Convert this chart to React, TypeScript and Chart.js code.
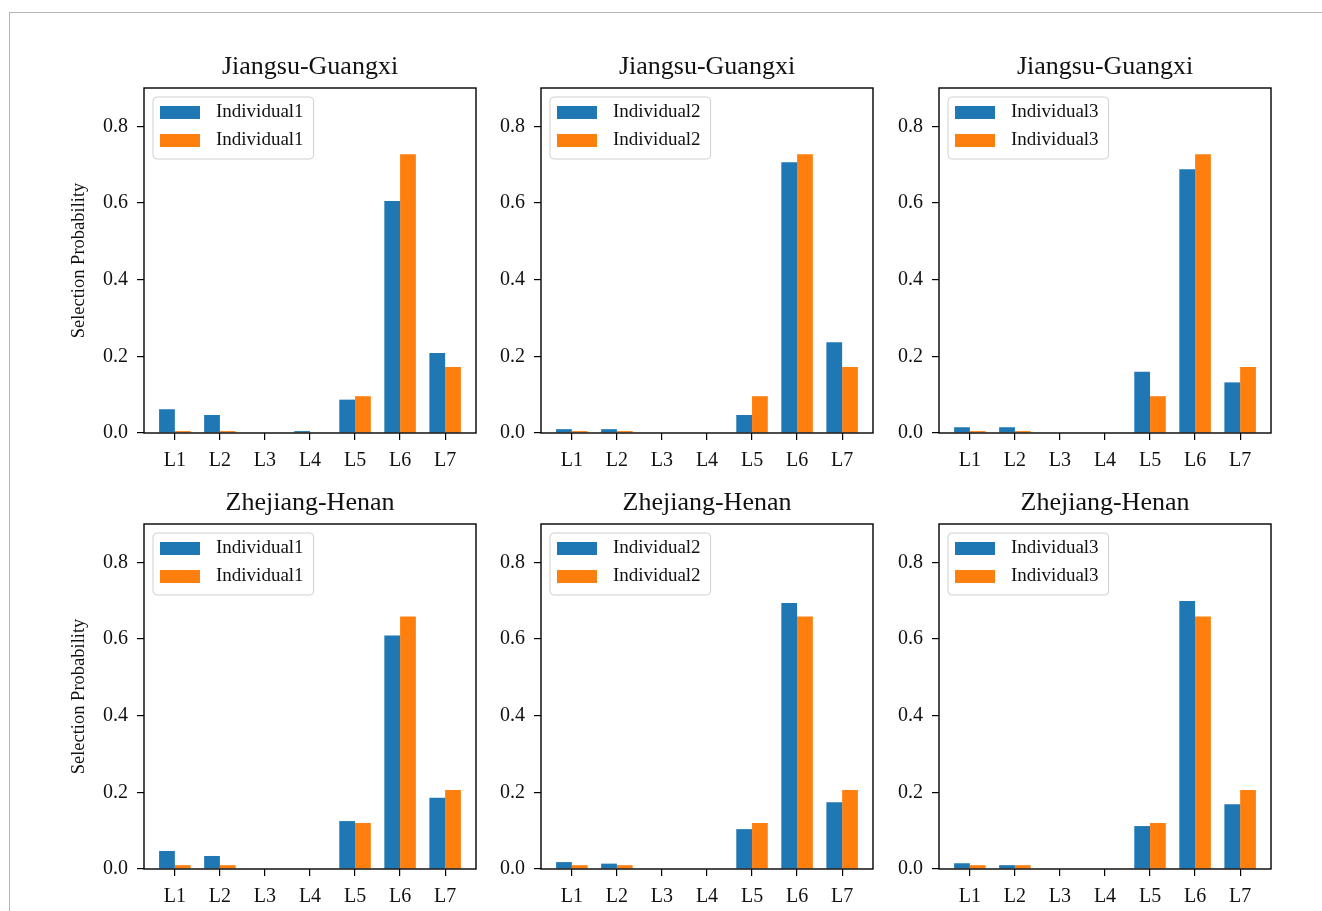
import React, { useEffect, useRef } from 'react';
import { Chart, registerables } from 'chart.js';

Chart.register(...registerables);

// ---- data ----
const categories = ['L1', 'L2', 'L3', 'L4', 'L5', 'L6', 'L7'];
const yTickValues = [0, 0.2, 0.4, 0.6, 0.8];
const rowTitles = ['Jiangsu-Guangxi', 'Zhejiang-Henan'];
const seriesNames = ['Individual1', 'Individual2', 'Individual3'];
const yAxisTitle = 'Selection Probability';

// Jiangsu-Guangxi
const jgBlue1 = [0.062, 0.047, 0, 0.005, 0.087, 0.605, 0.209];
const jgBlue2 = [0.01, 0.01, 0, 0, 0.047, 0.706, 0.237];
const jgBlue3 = [0.015, 0.015, 0, 0, 0.16, 0.688, 0.132];
const jgOrange = [0.005, 0.005, 0, 0, 0.096, 0.727, 0.172];

// Zhejiang-Henan
const zhBlue1 = [0.047, 0.034, 0, 0, 0.125, 0.609, 0.186];
const zhBlue2 = [0.018, 0.014, 0, 0, 0.104, 0.694, 0.174];
const zhBlue3 = [0.015, 0.01, 0, 0, 0.112, 0.699, 0.169];
const zhOrange = [0.01, 0.01, 0, 0, 0.12, 0.659, 0.206];

const blueSeries = [
  [jgBlue1, jgBlue2, jgBlue3],
  [zhBlue1, zhBlue2, zhBlue3],
];
const orangeSeries = [jgOrange, zhOrange];

// ---- layout / style ----
const FONT = "'Liberation Serif', 'Times New Roman', serif";
const BLUE = '#1f77b4';
const ORANGE = '#ff7f0e';
const COL_LEFT = [144, 541, 939];
const ROW_TOP = [88, 524];
const PLOT_W = 332;
const PLOT_H = 345;
const AX = 90;
const TT = 60;
const XB = 46;
const RP = 8;

const framePlugin = {
  id: 'frame',
  afterDatasetsDraw(chart: any) {
    const { ctx, chartArea: ca } = chart;
    ctx.save();
    ctx.strokeStyle = '#000';
    ctx.lineWidth = 1.4;
    ctx.strokeRect(ca.left, ca.top, ca.right - ca.left, ca.bottom - ca.top);
    ctx.restore();
  },
};

const boxLegendPlugin = {
  id: 'boxLegend',
  afterDraw(chart: any) {
    const { ctx, chartArea: ca } = chart;
    const ds = chart.data.datasets;
    ctx.save();
    ctx.font = `19px ${FONT}`;
    let tw = 0;
    ds.forEach((d: any) => {
      tw = Math.max(tw, ctx.measureText(d.label).width);
    });
    const bx = ca.left + 9;
    const by = ca.top + 9;
    const bw = 63 + tw + 10;
    const bh = 62;
    const r = 4;
    ctx.beginPath();
    ctx.moveTo(bx + r, by);
    ctx.lineTo(bx + bw - r, by);
    ctx.arcTo(bx + bw, by, bx + bw, by + r, r);
    ctx.lineTo(bx + bw, by + bh - r);
    ctx.arcTo(bx + bw, by + bh, bx + bw - r, by + bh, r);
    ctx.lineTo(bx + r, by + bh);
    ctx.arcTo(bx, by + bh, bx, by + bh - r, r);
    ctx.lineTo(bx, by + r);
    ctx.arcTo(bx, by, bx + r, by, r);
    ctx.closePath();
    ctx.fillStyle = 'rgba(255,255,255,0.8)';
    ctx.fill();
    ctx.strokeStyle = '#d0d0d0';
    ctx.lineWidth = 1;
    ctx.stroke();
    ds.forEach((d: any, i: number) => {
      const cy = ca.top + 24.5 + i * 28;
      ctx.fillStyle = d.backgroundColor;
      ctx.fillRect(ca.left + 16, cy - 6.5, 40, 13);
      ctx.fillStyle = '#111';
      ctx.textAlign = 'left';
      ctx.textBaseline = 'middle';
      ctx.fillText(d.label, ca.left + 72, cy);
    });
    ctx.restore();
  },
};

function Panel({ row, col }: { row: number; col: number }) {
  const ref = useRef<HTMLCanvasElement | null>(null);
  const w = AX + PLOT_W + RP;
  const h = TT + PLOT_H + XB;
  useEffect(() => {
    const blue = blueSeries[row][col];
    const orange = orangeSeries[row];
    const label = seriesNames[col];
    const tickGrid = {
      display: true,
      drawOnChartArea: false,
      drawTicks: true,
      tickLength: 7,
      color: '#000',
      lineWidth: 1.2,
      offset: false,
    };
    const chart = new Chart(ref.current as HTMLCanvasElement, {
      type: 'bar',
      data: {
        datasets: [
          {
            label,
            data: categories.map((_, i) => ({ x: i, y: blue[i] })),
            backgroundColor: BLUE,
            borderWidth: 0,
          },
          {
            label,
            data: categories.map((_, i) => ({ x: i, y: orange[i] })),
            backgroundColor: ORANGE,
            borderWidth: 0,
          },
        ],
      } as any,
      options: {
        animation: false,
        responsive: false,
        maintainAspectRatio: false,
        layout: { padding: { left: 0, top: 0, bottom: 0, right: RP }, autoPadding: false } as any,
        datasets: { bar: { categoryPercentage: 0.7, barPercentage: 1 } } as any,
        plugins: {
          legend: { display: false },
          tooltip: { enabled: false },
          title: {
            display: true,
            text: rowTitles[row],
            fullSize: false,
            color: '#111',
            font: { family: FONT, size: 26, weight: 'normal', lineHeight: 1.2 } as any,
            padding: { top: 23.8, bottom: 5 },
          },
        },
        scales: {
          x: {
            type: 'linear',
            min: -0.685,
            max: 6.685,
            offset: false,
            afterBuildTicks: (s: any) => {
              s.ticks = categories.map((_, i) => ({ value: i }));
            },
            afterFit: (s: any) => {
              s.height = XB;
            },
            ticks: {
              callback: (v: any) => categories[Math.round(Number(v))] ?? '',
              color: '#111',
              font: { family: FONT, size: 20 },
              padding: 9,
              maxRotation: 0,
              autoSkip: false,
            },
            grid: tickGrid,
            border: { display: false },
          },
          y: {
            min: 0,
            max: 0.9,
            afterBuildTicks: (s: any) => {
              s.ticks = yTickValues.map((v) => ({ value: v }));
            },
            afterFit: (s: any) => {
              s.width = AX;
            },
            ticks: {
              callback: (v: any) => Number(v).toFixed(1),
              color: '#111',
              font: { family: FONT, size: 20 },
              padding: 9,
            },
            grid: tickGrid,
            border: { display: false },
            title: {
              display: col === 0,
              text: yAxisTitle,
              color: '#111',
              font: { family: FONT, size: 18.5, lineHeight: 1.2 },
              padding: { top: 14, bottom: 0 },
            },
          },
        } as any,
      },
      plugins: [framePlugin, boxLegendPlugin],
    });
    return () => chart.destroy();
  }, [row, col]);
  return (
    <canvas
      ref={ref}
      width={w}
      height={h}
      style={{
        position: 'absolute',
        left: COL_LEFT[col] - AX,
        top: ROW_TOP[row] - TT,
        width: w,
        height: h,
      }}
    />
  );
}

export default function App() {
  const panels = [];
  for (let r = 0; r < 2; r++) {
    for (let c = 0; c < 3; c++) {
      panels.push(<Panel key={`${r}-${c}`} row={r} col={c} />);
    }
  }
  return (
    <div
      style={{
        position: 'absolute',
        left: 0,
        top: 0,
        width: 1322,
        height: 911,
        overflow: 'hidden',
        background: '#fff',
      }}
    >
      <div
        style={{
          position: 'absolute',
          left: 9,
          top: 12,
          width: 1322,
          height: 1000,
          borderTop: '1px solid #b4b4b4',
          borderLeft: '1px solid #b4b4b4',
        }}
      />
      {panels}
    </div>
  );
}
